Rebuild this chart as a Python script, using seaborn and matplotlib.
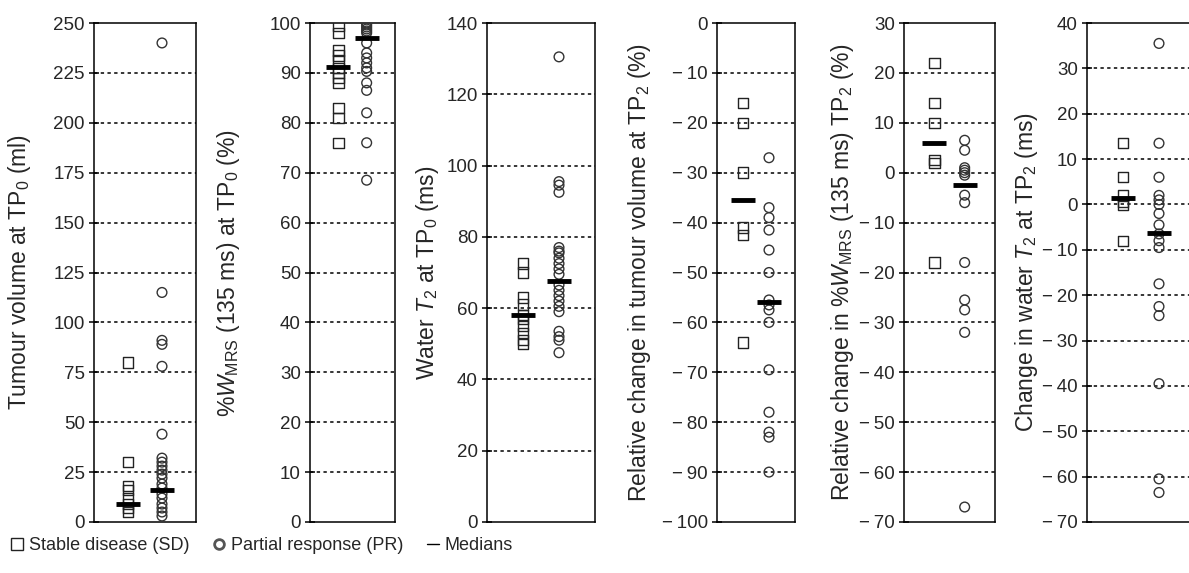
import numpy as np
import pandas as pd
import matplotlib
matplotlib.use("Agg")
import matplotlib.pyplot as plt
import seaborn as sns
from matplotlib.lines import Line2D
from matplotlib.ticker import FuncFormatter

# values: SD = squares, PR = circles
sd_vol_tp0 = [80, 30, 18, 16, 12, 9, 7, 5]
pr_vol_tp0 = [240, 115, 91, 89, 78, 44, 32, 30, 28, 26, 24, 22, 19, 17, 14, 12, 9, 7, 5, 3]
med_vol_tp0 = [9, 16]

sd_wmrs_tp0 = [99.5, 98, 94.5, 93.5, 92.5, 91, 90, 89, 88, 83, 81, 76]
pr_wmrs_tp0 = [100, 99.6, 99.2, 98.8, 98.4, 98, 96, 94, 93, 92, 91, 90.3, 88, 86.5, 82, 76, 68.5]
med_wmrs_tp0 = [91.2, 97]

sd_t2_tp0 = [72.5, 70, 63, 61, 58, 57, 55, 53, 51, 50]
pr_t2_tp0 = [130.5, 95.5, 94.5, 92.5, 77, 76, 75.5, 74, 72.5, 71, 69.5, 66.5, 65, 63.5,
             62, 60.5, 59, 53.5, 52, 51, 47.5]
med_t2_tp0 = [58, 67.5]

sd_dvol_tp2 = [-16, -20, -30, -41, -42.5, -64]
pr_dvol_tp2 = [-27, -37, -39, -41.5, -45.5, -50, -55.5, -56.5, -57.5, -60, -69.5, -78, -82, -83, -90]
med_dvol_tp2 = [-35.5, -56]

sd_dwmrs_tp2 = [22, 14, 10, 2.5, 2, -18]
pr_dwmrs_tp2 = [6.5, 4.5, 1, 0.5, 0, -0.5, -4.5, -6, -18, -25.5, -27.5, -32, -67]
med_dwmrs_tp2 = [6, -2.5]

sd_dt2_tp2 = [13.5, 6, 2, 0.5, 0, -8]
pr_dt2_tp2 = [35.5, 13.5, 6, 2, 1, 0, -2, -4.5, -6.5, -8, -9.5, -17.5, -22.5, -24.5,
              -39.5, -60.5, -63.5]
med_dt2_tp2 = [1.5, -6.3]

groups = ["SD", "PR"]

sns.set_theme(style="white")
plt.rcParams["font.family"] = ["Liberation Sans", "DejaVu Sans"]
plt.rcParams["mathtext.fontset"] = "custom"
plt.rcParams["mathtext.rm"] = "Liberation Sans"
plt.rcParams["mathtext.it"] = "Liberation Sans:italic"
plt.rcParams["mathtext.default"] = "regular"

W, H = 1189, 573
TOP, BOT = 23, 522

# (left px, right px, ylabel right edge px), sd, pr, medians, (ymin, ymax, step), ylabel
panels = [
    ((94, 196, 33), sd_vol_tp0, pr_vol_tp0, med_vol_tp0, (0, 250, 25),
     "Tumour volume at TP$_0$ (ml)"),
    ((310, 395, 242), sd_wmrs_tp0, pr_wmrs_tp0, med_wmrs_tp0, (0, 100, 10),
     "%$\\it{W}_{\\rm MRS}$ (135 ms) at TP$_0$ (%)"),
    ((487, 595, 441), sd_t2_tp0, pr_t2_tp0, med_t2_tp0, (0, 140, 20),
     "Water $\\it{T}_2$ at TP$_0$ (ms)"),
    ((717, 795, 653), sd_dvol_tp2, pr_dvol_tp2, med_dvol_tp2, (-100, 0, 10),
     "Relative change in tumour volume at TP$_2$ (%)"),
    ((904, 995, 856), sd_dwmrs_tp2, pr_dwmrs_tp2, med_dwmrs_tp2, (-70, 30, 10),
     "Relative change in %$\\it{W}_{\\rm MRS}$ (135 ms) TP$_2$ (%)"),
    ((1087, 1195, 1040), sd_dt2_tp2, pr_dt2_tp2, med_dt2_tp2, (-70, 40, 10),
     "Change in water $\\it{T}_2$ at TP$_2$ (ms)"),
]


def tick_fmt(v, pos):
    v = int(round(v))
    return f"\u2212\u2009{abs(v)}" if v < 0 else f"{v}"


fig = plt.figure(figsize=(W / 100, H / 100), dpi=100)

for (x0, x1, lx), sd, pr, med, (lo, hi, step), label in panels:
    ax = fig.add_axes([x0 / W, 1 - BOT / H, (x1 - x0) / W, (BOT - TOP) / H])
    df = pd.DataFrame({"group": ["SD"] * len(sd) + ["PR"] * len(pr),
                       "value": sd + pr})

    # dotted reference lines
    ticks = np.arange(lo, hi + step, step)
    for t in ticks[1:-1]:
        ax.axhline(t, color="black", lw=1.1, ls=(0, (2.2, 2.2)), zorder=1)

    sns.stripplot(data=df[df["group"] == "SD"], x="group", y="value", order=groups,
                  jitter=False, marker="s", size=7.5, color="white",
                  edgecolor="#222222", linewidth=1.0, ax=ax, zorder=3)
    sns.stripplot(data=df[df["group"] == "PR"], x="group", y="value", order=groups,
                  jitter=False, marker="o", size=7, color="white",
                  edgecolor="#333333", linewidth=1.0, ax=ax, zorder=3)
    for c in ax.collections:
        c.set_facecolor("none")

    # median bars
    ax.plot([0, 1], med, ls="none", marker="_", ms=17, mew=3.5, color="black", zorder=4)

    ax.set_xlim(-1, 2)
    ax.set_ylim(lo, hi)
    ax.set_yticks(ticks)
    ax.yaxis.set_major_formatter(FuncFormatter(tick_fmt))
    ax.set_xticks([])
    ax.set_xlabel("")
    ax.set_ylabel(label, fontsize=16.5)
    ax.yaxis.set_label_coords((lx - x0) / (x1 - x0), 0.5)
    ax.tick_params(axis="y", left=True, direction="inout", length=7, width=1.1,
                   labelsize=13.5, pad=3, color="black")
    for s in ax.spines.values():
        s.set_color("black")
        s.set_linewidth(1.1)

handles = [
    Line2D([], [], ls="none", marker="s", ms=8, mfc="none", mec="#222222", mew=1.0),
    Line2D([], [], ls="none", marker="o", ms=7, mfc="none", mec="#555555", mew=2.0),
    Line2D([], [], color="black", lw=1.0),
]
fig.legend(handles, ["Stable disease (SD)", "Partial response (PR)", "Medians"],
           loc="center left", bbox_to_anchor=(0.003, 1 - 546 / H), ncol=3,
           frameon=False, fontsize=13, handlelength=0.7, handletextpad=0.3,
           columnspacing=1.3, borderaxespad=0)

fig.savefig("out.png", dpi=100)
